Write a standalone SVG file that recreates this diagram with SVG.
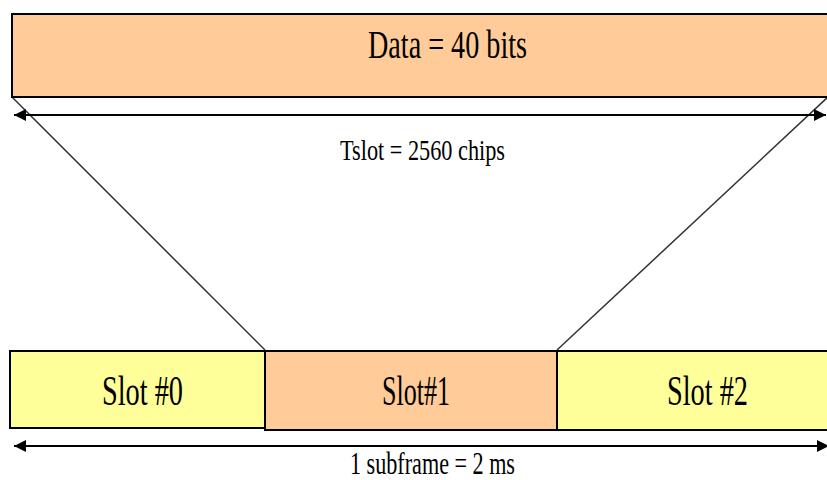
<svg xmlns="http://www.w3.org/2000/svg" width="827" height="480" viewBox="0 0 827 480">
  <style>
    .box { stroke: #000; stroke-width: 2; }
    .orange { fill: #FFCC99; }
    .yellow { fill: #FFFF99; }
    .lbl { font-family: "Liberation Serif", "Times New Roman", serif; fill: #000; text-anchor: start; }
    .span { stroke: #000; stroke-width: 2; fill: none; marker-start: url(#arrowStart); marker-end: url(#arrowEnd); }
    .guide { stroke: #333; stroke-width: 1.5; fill: none; }
  </style>
  <defs>
    <marker id="arrowEnd" viewBox="0 0 10 10" refX="10" refY="5" markerWidth="6" markerHeight="6" orient="auto" markerUnits="strokeWidth">
      <path d="M0,0 L10,5 L0,10 Z" fill="#000"/>
    </marker>
    <marker id="arrowStart" viewBox="0 0 10 10" refX="0" refY="5" markerWidth="6" markerHeight="6" orient="auto" markerUnits="strokeWidth">
      <path d="M10,0 L0,5 L10,10 Z" fill="#000"/>
    </marker>
  </defs>

  <rect width="827" height="480" fill="#fff"/>

  <!-- expansion guides from the slot to the data block -->
  <g id="connectors">
    <line class="guide" x1="12" y1="97" x2="265" y2="350"/>
    <line class="guide" x1="829" y1="96" x2="557" y2="350"/>
    <line class="span" x1="14" y1="115" x2="826" y2="115"/>
    <line class="span" x1="14" y1="446" x2="829" y2="446"/>
  </g>

  <g id="data">
    <rect class="box orange" x="12" y="14" width="830" height="83"/>
    <text class="lbl" x="368" y="58" font-size="40" textLength="159" lengthAdjust="spacingAndGlyphs">Data = 40 bits</text>
  </g>

  <g id="tslot">
    <text class="lbl" x="340" y="160" font-size="29" textLength="165" lengthAdjust="spacingAndGlyphs">Tslot = 2560 chips</text>
  </g>

  <g id="slot0">
    <rect class="box yellow" x="10" y="351" width="255" height="77"/>
    <text class="lbl" x="102" y="405" font-size="42" textLength="81" lengthAdjust="spacingAndGlyphs">Slot #0</text>
  </g>

  <g id="slot2">
    <rect class="box yellow" x="557" y="351" width="290" height="79"/>
    <text class="lbl" x="667" y="405" font-size="42" textLength="81" lengthAdjust="spacingAndGlyphs">Slot #2</text>
  </g>

  <g id="slot1">
    <rect class="box orange" x="265" y="351" width="292" height="79"/>
    <text class="lbl" x="382" y="405" font-size="42" textLength="68" lengthAdjust="spacingAndGlyphs">Slot#1</text>
  </g>

  <g id="subframe">
    <text class="lbl" x="350" y="474" font-size="31" textLength="165" lengthAdjust="spacingAndGlyphs">1 subframe = 2 ms</text>
  </g>
</svg>
